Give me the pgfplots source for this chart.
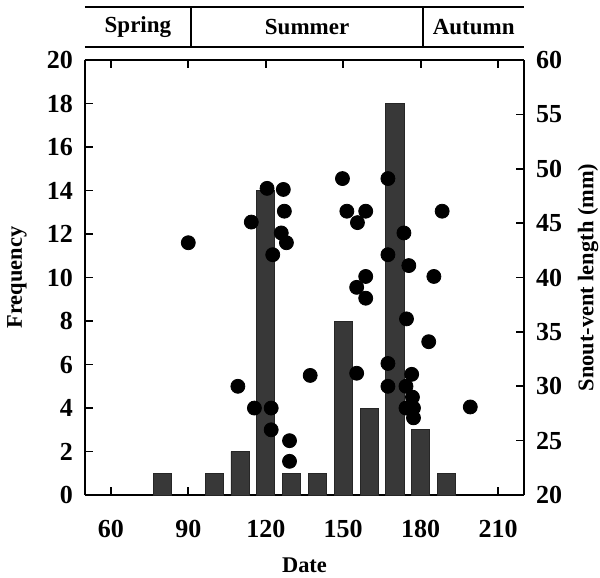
\documentclass[border=0pt]{standalone}
\usepackage{fontspec}
\setmainfont{Liberation Serif}
\usepackage{pgfplots}
\pgfplotsset{compat=1.18}
\begin{document}
\begin{tikzpicture}
\pgfplotsset{
  common/.style={
    scale only axis, width=219.5pt, height=217.5pt,
    xmin=50, xmax=220,
    tick align=inside,
    major tick length=4pt,
    axis line style={line width=0.8pt},
    every tick/.style={line width=0.8pt, black},
    /pgf/number format/assume math mode=true,
    ticklabel style={font=\bfseries\fontsize{13}{13}\selectfont},
    label style={font=\bfseries\fontsize{11.2}{11.2}\selectfont, inner sep=0pt},
    clip=false,
  }
}
\begin{axis}[common,
  ymin=0, ymax=20,
  axis y line*=left,
  xtick={60,90,...,210},
  ytick={0,2,...,20},
  xticklabel style={yshift=-9pt},
  yticklabel style={xshift=-2.5pt},
  xlabel={Date},
  ylabel={Frequency},
  xlabel style={at={(axis description cs:0.5,-0.161)}, anchor=center},
  ylabel style={at={(axis description cs:-0.155,0.5)}, anchor=center},
]
\addplot[ybar, bar width=7, fill=black!78, draw=black!85] coordinates {
(80,1) (100,1) (110,2) (120,14) (130,1) (140,1) (150,8) (160,4) (170,18) (180,3) (190,1)
};
\path (rel axis cs:-0.1936,-0.1885) rectangle (rel axis cs:1.1731,1.138);
\draw[line width=0.8pt] (rel axis cs:0,1.122) -- (rel axis cs:1,1.122);
\draw[line width=0.8pt] (rel axis cs:0,1.030) -- (rel axis cs:1,1.030);
\draw[line width=0.8pt] (rel axis cs:0.2412,1.030) -- (rel axis cs:0.2412,1.122);
\draw[line width=0.8pt] (rel axis cs:0.7706,1.030) -- (rel axis cs:0.7706,1.122);
\node[font=\bfseries\fontsize{11.5}{11.5}\selectfont] at (rel axis cs:0.1206,1.076) {Spring};
\node[font=\bfseries\fontsize{11.5}{11.5}\selectfont] at (rel axis cs:0.5059,1.076) {Summer};
\node[font=\bfseries\fontsize{11.5}{11.5}\selectfont] at (rel axis cs:0.8853,1.076) {Autumn};
\end{axis}
\begin{axis}[common,
  ymin=20, ymax=60,
  axis y line*=right,
  axis x line=none,
  ytick={20,25,...,60},
  yticklabel style={xshift=2.5pt},
  ylabel={Snout-vent length (mm)},
  ylabel style={at={(axis description cs:1.146,0.5)}, anchor=center},
]
\addplot[only marks, mark=*, mark size=3.5pt, black] coordinates {
(90,43.2) (109.2,30) (114.4,45.1) (115.6,28) (120.5,48.2) (122.1,28) (122.1,26)
(122.7,42.1) (126,44.1) (126.8,48.1) (127.2,46.1) (128,43.2) (129.2,25) (129.2,23.1)
(137.2,31) (149.7,49.1) (151.4,46.1) (155.5,45.05) (158.7,46.1) (158.7,40.1)
(155.2,39.1) (158.7,38.1) (155.2,31.2) (167.3,49.1) (167.3,42.1) (173.5,44.1)
(175.4,41.1) (174.5,36.2) (167.3,32.1) (167.3,30) (176.5,31.1) (174.3,30.0)
(176.8,29.0) (174.3,28.0) (177.2,28.0) (177.2,27.1) (183.1,34.1) (185.1,40.1)
(188.3,46.1) (199.2,28.1)
};
\end{axis}
\end{tikzpicture}
\end{document}
